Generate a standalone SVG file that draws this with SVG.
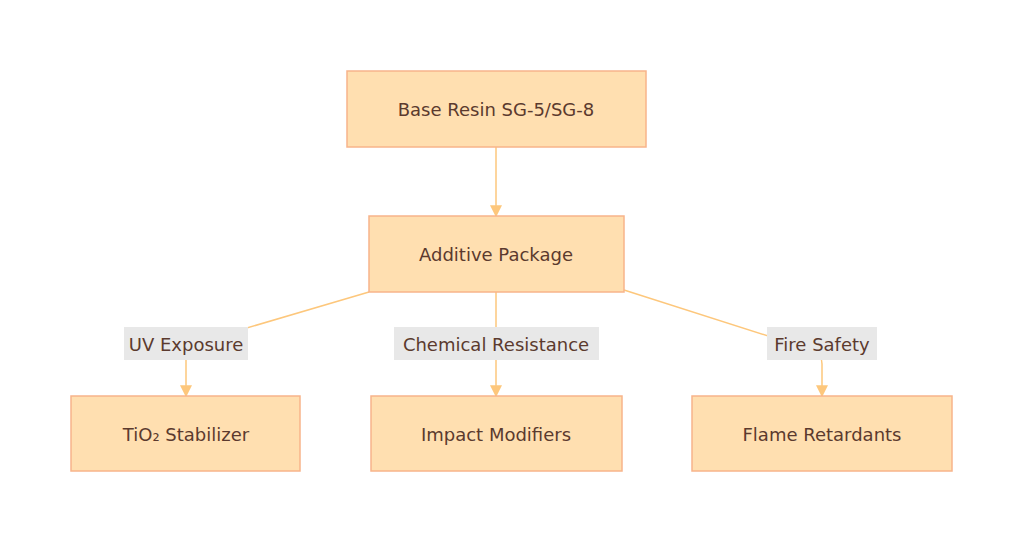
<svg xmlns="http://www.w3.org/2000/svg" width="1024" height="543" viewBox="0 0 1024 543">
<style>
.n rect{fill:#ffdfb0;stroke:#f8b48a;stroke-width:1.5}
.n text,.l text{font-family:"DejaVu Sans",sans-serif;font-size:18px;fill:#5b3a2e;text-anchor:middle;dominant-baseline:central}
.l rect{fill:#e8e8e8}
.c path{fill:none;stroke:#fdc77c;stroke-width:1.5}
</style>
<defs><marker id="a" viewBox="0 0 10 10" refX="9" refY="5" markerWidth="8" markerHeight="8" orient="auto"><path d="M0,0L10,5L0,10z" fill="#fdc77c"/></marker></defs>
<rect width="1024" height="543" fill="#fff"/>
<g class="c">
<path d="M496,147V216" marker-end="url(#a)"/>
<path d="M369,292L196,343Q186,347 186,357V396" marker-end="url(#a)"/>
<path d="M496,292V396" marker-end="url(#a)"/>
<path d="M624,290L812,350Q822,354 822,364V396" marker-end="url(#a)"/>
</g>
<g class="l">
<g><rect x="124" y="327" width="124" height="33"/><text x="186" y="344">UV Exposure</text></g>
<g><rect x="394" y="327" width="205" height="33"/><text x="496" y="344">Chemical Resistance</text></g>
<g><rect x="767" y="327" width="110" height="33"/><text x="822" y="344">Fire Safety</text></g>
</g>
<g id="base" class="n"><rect x="347" y="71" width="299" height="76"/><text x="496" y="109">Base Resin SG-5/SG-8</text></g>
<g id="additive" class="n"><rect x="369" y="216" width="255" height="76"/><text x="496" y="254">Additive Package</text></g>
<g id="tio2" class="n"><rect x="71" y="396" width="229" height="75"/><text x="186" y="434">TiO₂ Stabilizer</text></g>
<g id="impact" class="n"><rect x="371" y="396" width="251" height="75"/><text x="496" y="434">Impact Modifiers</text></g>
<g id="flame" class="n"><rect x="692" y="396" width="260" height="75"/><text x="822" y="434">Flame Retardants</text></g>
</svg>
